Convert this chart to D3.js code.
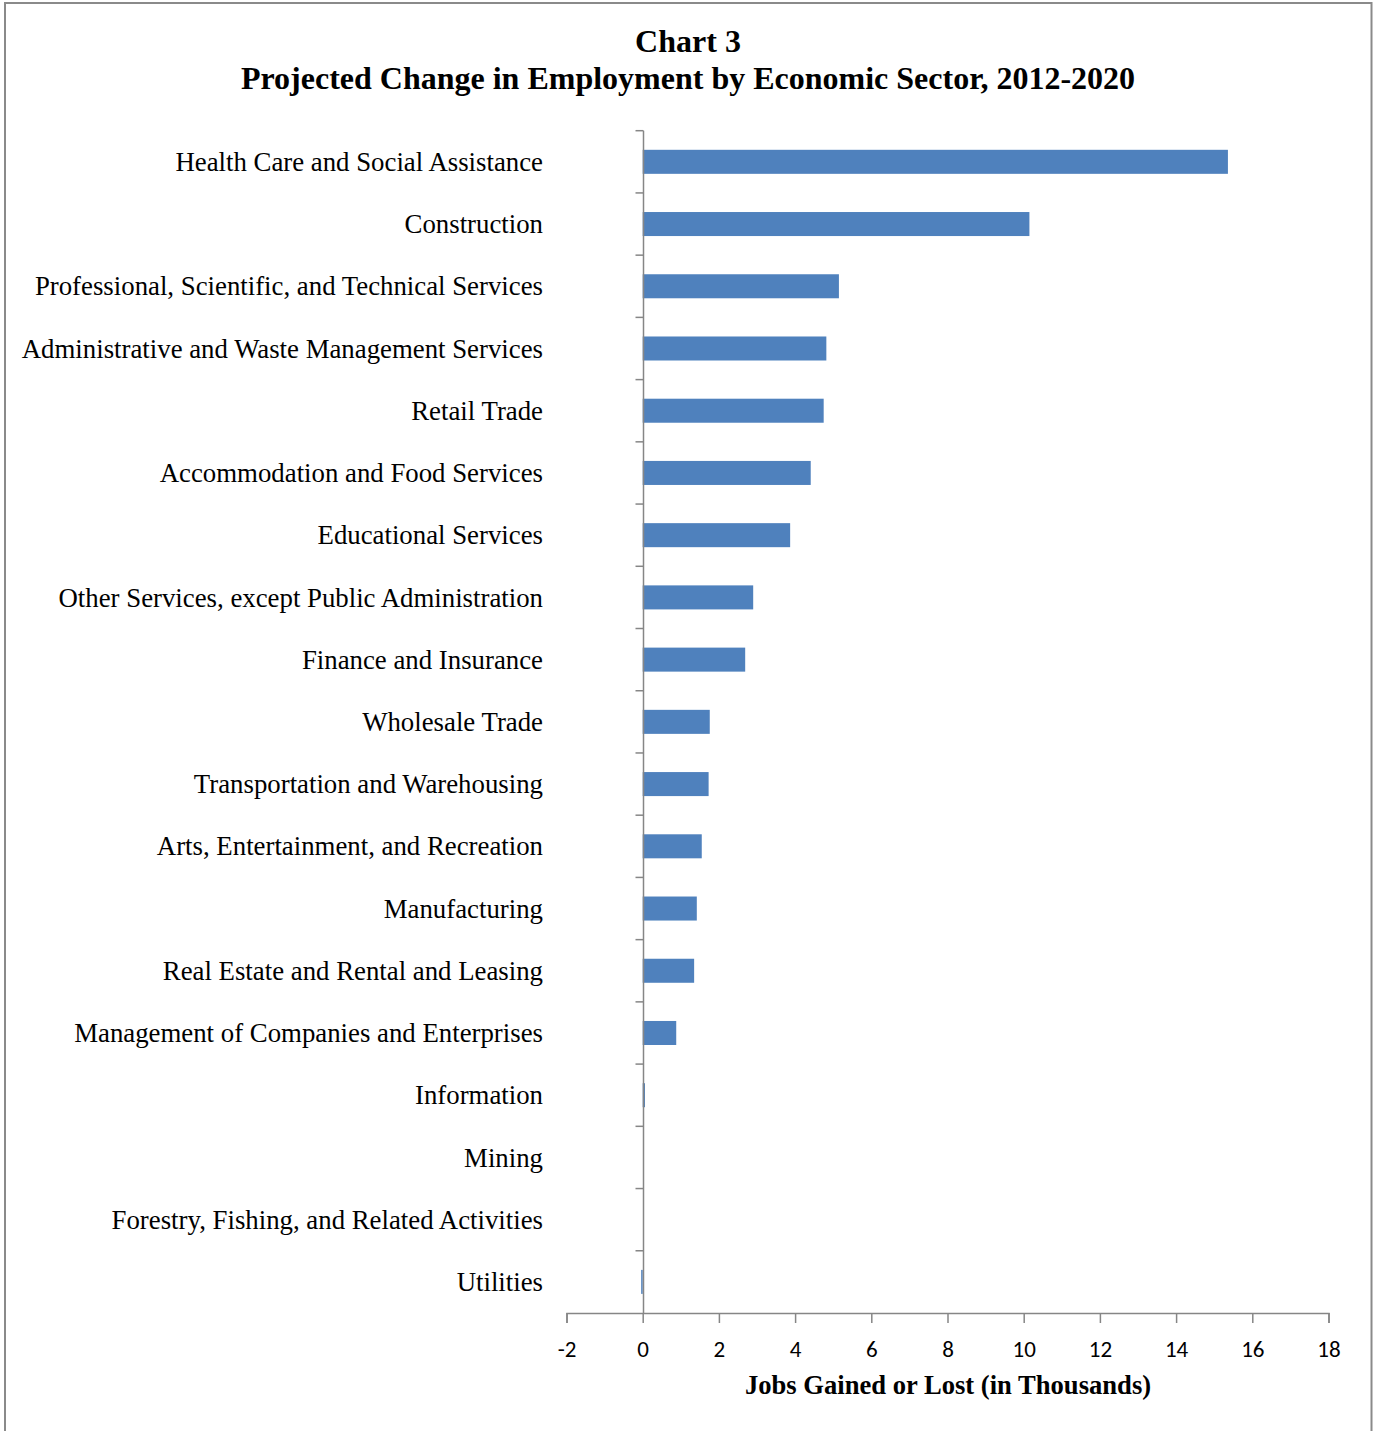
<!DOCTYPE html>
<html>
<head>
<meta charset="utf-8">
<script src="https://cdn.jsdelivr.net/npm/d3@7"></script>
<style>
  html, body { margin: 0; padding: 0; background: #fff; }
  svg { display: block; }
</style>
</head>
<body>
<svg id="chart" width="1374" height="1431"></svg>
<script>
// Sector names, top to bottom
const sectors = [
  "Health Care and Social Assistance",
  "Construction",
  "Professional, Scientific, and Technical Services",
  "Administrative and Waste Management Services",
  "Retail Trade",
  "Accommodation and Food Services",
  "Educational Services",
  "Other Services, except Public Administration",
  "Finance and Insurance",
  "Wholesale Trade",
  "Transportation and Warehousing",
  "Arts, Entertainment, and Recreation",
  "Manufacturing",
  "Real Estate and Rental and Leasing",
  "Management of Companies and Enterprises",
  "Information",
  "Mining",
  "Forestry, Fishing, and Related Activities",
  "Utilities"
];

// Projected change in jobs, thousands
const jobChange = [
  15.36, 10.15, 5.15, 4.82, 4.75, 4.41, 3.87, 2.90, 2.69,
  1.76, 1.73, 1.55, 1.42, 1.35, 0.88, 0.06, 0.0, 0.0, -0.04
];

const xTicks = [-2, 0, 2, 4, 6, 8, 10, 12, 14, 16, 18];

const titleLines = ["Chart 3", "Projected Change in Employment by Economic Sector, 2012-2020"];
const xAxisTitle = "Jobs Gained or Lost (in Thousands)";

const data = sectors.map((s, i) => ({ sector: s, value: jobChange[i] }));

const svg = d3.select("#chart");
const axisColor = "#868686";
const barColor = "#4F81BD";
const serif = "'Liberation Serif', 'Times New Roman', serif";
const sans = "Carlito, Calibri, Lato, sans-serif";

// Outer frame
svg.append("rect")
  .attr("x", 5).attr("y", 3)
  .attr("width", 1366.5).attr("height", 1500)
  .attr("fill", "none")
  .attr("stroke", "#8a8a8a")
  .attr("stroke-width", 2);

const plot = { left: 566.5, right: 1328.5, top: 130.7, bottom: 1313 };

const x = d3.scaleLinear()
  .domain([xTicks[0], xTicks[xTicks.length - 1]])
  .range([plot.left, plot.right]);

const y = d3.scaleBand()
  .domain(sectors)
  .range([plot.top, plot.bottom])
  .paddingInner(0.614)
  .paddingOuter(0.307);

// Title
svg.append("g").selectAll("text")
  .data(titleLines)
  .join("text")
  .attr("x", 688)
  .attr("y", (d, i) => 52 + i * 37)
  .attr("text-anchor", "middle")
  .attr("font-family", serif)
  .attr("font-weight", "bold")
  .attr("font-size", 32)
  .attr("fill", "#000")
  .text(d => d);

// Bars
svg.append("g").selectAll("rect")
  .data(data)
  .join("rect")
  .attr("x", d => x(Math.min(0, d.value)))
  .attr("y", d => y(d.sector))
  .attr("width", d => Math.abs(x(d.value) - x(0)))
  .attr("height", y.bandwidth())
  .attr("fill", barColor);

// Category axis at zero, ticks on band boundaries
const yAxis = svg.append("g");
const x0 = Math.round(x(0)) + 0.5;
yAxis.append("line")
  .attr("x1", x0).attr("x2", x0)
  .attr("y1", plot.top).attr("y2", plot.bottom)
  .attr("stroke", axisColor).attr("stroke-width", 1.5);
const boundaries = d3.range(sectors.length + 1).map(i => plot.top + i * y.step());
yAxis.selectAll("line.tick")
  .data(boundaries.slice(0, -1))
  .join("line")
  .attr("class", "tick")
  .attr("x1", x0 - 8).attr("x2", x0)
  .attr("y1", d => d).attr("y2", d => d)
  .attr("stroke", axisColor).attr("stroke-width", 1.5);

// Category labels
svg.append("g").selectAll("text")
  .data(sectors)
  .join("text")
  .attr("x", 543)
  .attr("y", d => y(d) + y.bandwidth() / 2)
  .attr("dy", "0.34em")
  .attr("text-anchor", "end")
  .attr("font-family", serif)
  .attr("font-size", 26.8)
  .attr("fill", "#000")
  .text(d => d);

// Value axis
const xAxis = svg.append("g")
  .attr("transform", `translate(0,${plot.bottom})`)
  .call(d3.axisBottom(x).tickValues(xTicks).tickSize(10).tickPadding(18).tickFormat(d => String(d)));
xAxis.select(".domain").attr("stroke", axisColor).attr("stroke-width", 1.5);
xAxis.selectAll(".tick line").attr("stroke", axisColor).attr("stroke-width", 1.5);
xAxis.selectAll(".tick text")
  .attr("font-family", sans)
  .attr("font-size", 23)
  .attr("fill", "#000");

// Axis title
svg.append("text")
  .attr("x", 948)
  .attr("y", 1394)
  .attr("text-anchor", "middle")
  .attr("font-family", serif)
  .attr("font-weight", "bold")
  .attr("font-size", 26.6)
  .attr("fill", "#000")
  .text(xAxisTitle);
</script>
</body>
</html>
